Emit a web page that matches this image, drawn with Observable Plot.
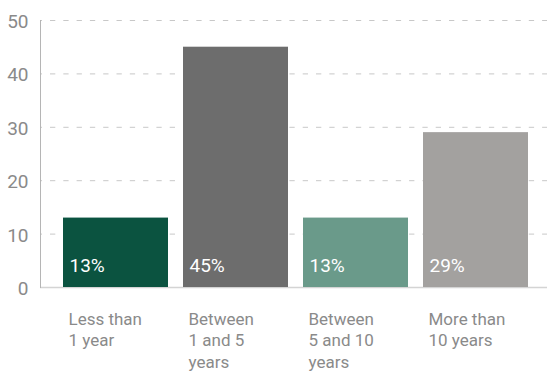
<!DOCTYPE html>
<html>
<head>
<meta charset="utf-8">
<script src="https://cdn.jsdelivr.net/npm/d3@7"></script>
<script src="https://cdn.jsdelivr.net/npm/@observablehq/plot@0.6"></script>
<style>
  html, body { margin: 0; padding: 0; background: #fff; }
  #chart { width: 547px; height: 374px; }
</style>
</head>
<body>
<div id="chart"></div>
<script>
const categories = ["Less than\n1 year", "Between\n1 and 5\nyears", "Between\n5 and 10\nyears", "More than\n10 years"];
const values = [13, 45, 13, 29];
const valueLabels = ["13%", "45%", "13%", "29%"];
const colors = ["#0b5340", "#6d6d6d", "#6a9a8a", "#a3a19f"];
const yTicks = [0, 10, 20, 30, 40, 50];

const data = categories.map((c, i) => ({cat: c, value: values[i], label: valueLabels[i], color: colors[i]}));

const font = "Roboto, 'DejaVu Sans', sans-serif";

const chart = Plot.plot({
  width: 547,
  height: 374,
  marginLeft: 40,
  marginRight: 0,
  marginTop: 20,
  marginBottom: 87,
  style: {fontFamily: font, background: "#fff"},
  x: {domain: categories, range: [63, 528], paddingInner: 0.125, paddingOuter: 0, axis: null},
  y: {domain: [0, 50], axis: null},
  marks: [
    Plot.ruleY(yTicks.filter(d => d > 0), {stroke: "#c8c8c8", strokeWidth: 1, strokeDasharray: "5.3,8", strokeDashoffset: 3.3}),
    Plot.ruleY([0], {stroke: "#d4d4d4", strokeWidth: 1.5}),
    Plot.frame({anchor: "left", stroke: "#b5b5b5"}),
    Plot.barY(data, {x: "cat", y: "value", fill: "color"}),
    Plot.text(data, {x: "cat", y: 0, text: "label", fill: "#fff", fontSize: 19, textAnchor: "start", lineAnchor: "middle", dx: -46.5, dy: -21.5}),
    Plot.text(data, {x: "cat", y: 0, text: "cat", fill: "#8a8a8a", fontSize: 17, textAnchor: "start", lineAnchor: "top", lineHeight: 1.27, dx: -47.5, dy: 22}),
    Plot.axisY({ticks: yTicks, tickSize: 0, tickPadding: 12, fontSize: 19, fill: "#8a8a8a", dy: 1.5, label: null, tickFormat: d => String(d)})
  ]
});
document.getElementById("chart").appendChild(chart);
</script>
</body>
</html>
